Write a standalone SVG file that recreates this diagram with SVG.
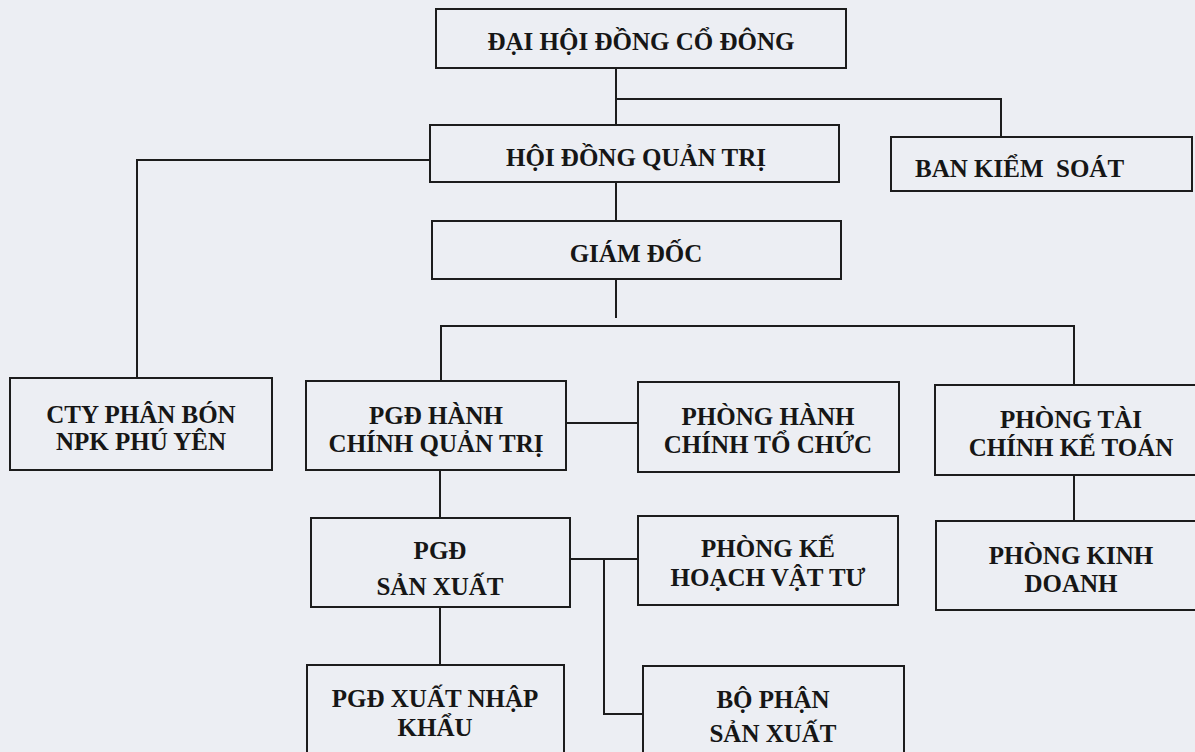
<svg xmlns="http://www.w3.org/2000/svg" width="1195" height="752" viewBox="0 0 1195 752">
<style>
.box{fill:none;stroke:#1c1c1c;stroke-width:2}
.ln{fill:none;stroke:#1c1c1c;stroke-width:2}
text{font-family:"Liberation Serif","Times New Roman",serif;font-weight:bold;font-size:25px;fill:#161616;text-anchor:middle}
</style>
<rect x="0" y="0" width="1195" height="752" fill="#eceef3"/>
<g id="connectors">
<path class="ln" d="M616 68V125"/>
<path class="ln" d="M616 99H1001V137"/>
<path class="ln" d="M430 160H137V378"/>
<path class="ln" d="M616 182V221"/>
<path class="ln" d="M616 279V318"/>
<path class="ln" d="M441 381V326H1074V385"/>
<path class="ln" d="M566 423H638"/>
<path class="ln" d="M1074 475V521"/>
<path class="ln" d="M440 470V518"/>
<path class="ln" d="M570 559H638"/>
<path class="ln" d="M604 559V714H643"/>
<path class="ln" d="M440 607V665"/>
</g>
<g id="dhdcd"><rect class="box" x="436" y="9" width="410" height="59"/><text x="641" y="50">ĐẠI HỘI ĐỒNG CỔ ĐÔNG</text></g>
<g id="hdqt"><rect class="box" x="430" y="125" width="409" height="57"/><text x="636" y="166">HỘI ĐỒNG QUẢN TRỊ</text></g>
<g id="bks"><rect class="box" x="891" y="137" width="301" height="54"/><text x="915" y="177" style="text-anchor:start" xml:space="preserve">BAN KIỂM  SOÁT</text></g>
<g id="gd"><rect class="box" x="432" y="221" width="409" height="58"/><text x="636" y="262">GIÁM ĐỐC</text></g>
<g id="cty"><rect class="box" x="10" y="378" width="262" height="92"/><text x="141" y="423">CTY PHÂN BÓN</text><text x="141" y="450">NPK PHÚ YÊN</text></g>
<g id="pgdhc"><rect class="box" x="306" y="381" width="260" height="89"/><text x="436" y="424">PGĐ HÀNH</text><text x="436" y="452">CHÍNH QUẢN TRỊ</text></g>
<g id="phctc"><rect class="box" x="638" y="382" width="261" height="90"/><text x="768" y="425">PHÒNG HÀNH</text><text x="768" y="453">CHÍNH TỔ CHỨC</text></g>
<g id="ptckt"><rect class="box" x="935" y="385" width="272" height="90"/><text x="1071" y="428">PHÒNG TÀI</text><text x="1071" y="456">CHÍNH KẾ TOÁN</text></g>
<g id="pkd"><rect class="box" x="936" y="521" width="271" height="89"/><text x="1071" y="564">PHÒNG KINH</text><text x="1071" y="592">DOANH</text></g>
<g id="pgdsx"><rect class="box" x="311" y="518" width="259" height="89"/><text x="440" y="559">PGĐ</text><text x="440" y="595">SẢN XUẤT</text></g>
<g id="pkhvt"><rect class="box" x="638" y="516" width="260" height="89"/><text x="768" y="557">PHÒNG KẾ</text><text x="768" y="586">HOẠCH VẬT TƯ</text></g>
<g id="pgdxnk"><rect class="box" x="307" y="665" width="257" height="100"/><text x="435" y="707">PGĐ XUẤT NHẬP</text><text x="435" y="736">KHẨU</text></g>
<g id="bpsx"><rect class="box" x="643" y="666" width="261" height="100"/><text x="773" y="708">BỘ PHẬN</text><text x="773" y="742">SẢN XUẤT</text></g>
</svg>
